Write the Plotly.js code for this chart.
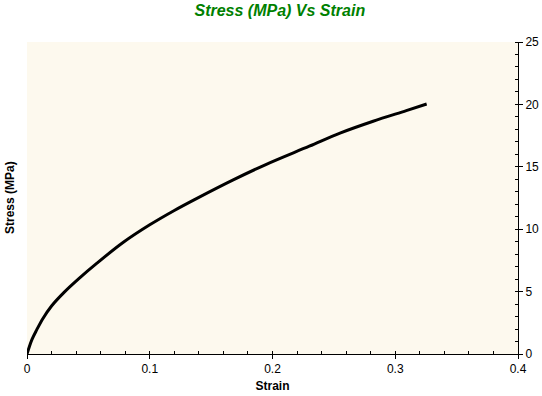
<!DOCTYPE html>
<html>
<head>
<meta charset="utf-8">
<script src="https://cdn.plot.ly/plotly-3.0.1.min.js"></script>
<style>html,body{margin:0;padding:0;background:#fff;}#chart{width:542px;height:396px;}</style>
</head>
<body>
<div id="chart"></div>
<script>
const strain = [0, 0.004, 0.008, 0.013, 0.020, 0.030, 0.042, 0.057, 0.0785, 0.100, 0.120, 0.140, 0.168, 0.195, 0.230, 0.255, 0.282, 0.309, 0.3256];
const stress = [0, 1.15, 1.95, 2.85, 3.85, 4.92, 6.02, 7.28, 8.95, 10.35, 11.5, 12.55, 13.95, 15.2, 16.65, 17.7, 18.65, 19.5, 20.03];
const xTickVals = [0, 0.1, 0.2, 0.3, 0.4];
const xTickText = ['0', '0.1', '0.2', '0.3', '0.4'];
const yTickVals = [0, 5, 10, 15, 20, 25];

const tickFont = {family: 'Liberation Sans, Arial, sans-serif', size: 12, color: '#000'};

Plotly.newPlot('chart', [{
  x: strain, y: stress, type: 'scatter', mode: 'lines',
  line: {color: '#000', width: 3, shape: 'spline', smoothing: 1},
  hoverinfo: 'skip'
}], {
  width: 542, height: 396,
  margin: {l: 27, r: 24, t: 42, b: 42, pad: 0},
  paper_bgcolor: '#ffffff',
  plot_bgcolor: '#fdf9ee',
  showlegend: false,
  title: {text: '<b><i>Stress (MPa) Vs Strain</i></b>', x: 0.515, xref: 'paper', y: 0.975, yanchor: 'middle',
    font: {family: 'Liberation Sans, Arial, sans-serif', size: 16, color: '#008000'}},
  xaxis: {
    range: [0, 0.4], showgrid: false, zeroline: false,
    showline: true, linecolor: '#000', linewidth: 1, mirror: false,
    ticks: 'outside', ticklen: 4, tickcolor: '#000', tickwidth: 1,
    tickvals: xTickVals, ticktext: xTickText, tickfont: tickFont,
    minor: {dtick: 0.02, ticks: 'inside', ticklen: 3, tickcolor: '#000', tickwidth: 1, showgrid: false},
    title: {text: '<b>Strain</b>', font: {family: 'Liberation Sans, Arial, sans-serif', size: 12, color: '#000'}, standoff: 6},
    fixedrange: true
  },
  yaxis: {
    range: [0, 25], side: 'right', showgrid: false, zeroline: false,
    showline: true, linecolor: '#000', linewidth: 1,
    ticks: 'outside', ticklen: 4, tickcolor: '#000', tickwidth: 1,
    tickvals: yTickVals, tickfont: tickFont,
    minor: {dtick: 1, ticks: 'inside', ticklen: 3, tickcolor: '#000', tickwidth: 1, showgrid: false},
    fixedrange: true
  },
  annotations: [{
    text: '<b>Stress (MPa)</b>', textangle: -90, xref: 'paper', yref: 'paper',
    x: 0, xshift: -17, y: 0.5, xanchor: 'center', yanchor: 'middle', showarrow: false,
    font: {family: 'Liberation Sans, Arial, sans-serif', size: 12, color: '#000'}
  }]
}, {displayModeBar: false, staticPlot: true});
</script>
</body>
</html>
